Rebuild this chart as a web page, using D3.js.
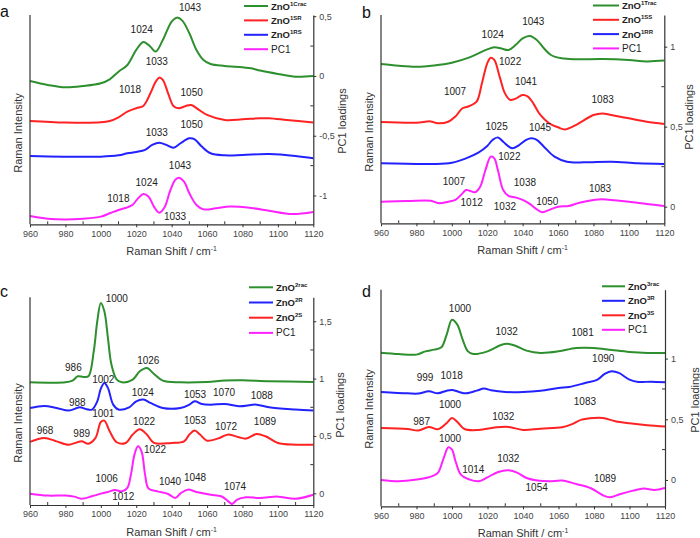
<!DOCTYPE html>
<html><head><meta charset="utf-8">
<script src="https://cdn.jsdelivr.net/npm/d3@7"></script>
<style>body{margin:0;background:#fff} svg{display:block;font-family:"Liberation Sans",Arial,sans-serif}</style>
</head><body><svg id="chart" width="700" height="538"></svg>
<script>
// ---------- DATA (x = Raman shift cm-1, y = value on the PC1-loadings axis) ----------
const xTicks = [960, 980, 1000, 1020, 1040, 1060, 1080, 1100, 1120];

// Panel a
const aLabels = ["1Crac", "1SR", "1RS", "PC1"];
const a_ZnO1Crac = [[960,-0.042],[970,-0.075],[980,-0.095],[990,-0.084],[1000,-0.061],[1005,-0.028],[1010,0.036],[1015,0.092],[1020,0.218],[1024,0.285],[1028,0.245],[1031,0.204],[1035,0.30],[1040,0.455],[1043,0.488],[1046,0.463],[1050,0.357],[1054,0.218],[1058,0.134],[1062,0.10],[1070,0.084],[1080,0.073],[1085,0.064],[1090,0.045],[1100,0.017],[1110,-0.006],[1120,0]];
const a_ZnO1SR = [[960,-0.377],[980,-0.39],[1000,-0.388],[1005,-0.377],[1010,-0.346],[1015,-0.298],[1020,-0.27],[1024,-0.251],[1028,-0.145],[1031,-0.047],[1033,-0.014],[1035,-0.033],[1038,-0.145],[1041,-0.251],[1044,-0.27],[1048,-0.251],[1051,-0.243],[1055,-0.279],[1060,-0.326],[1070,-0.368],[1080,-0.363],[1090,-0.354],[1095,-0.354],[1105,-0.368],[1120,-0.39]];
const a_ZnO1RS = [[960,-0.669],[1000,-0.675],[1010,-0.664],[1015,-0.647],[1020,-0.636],[1025,-0.619],[1029,-0.577],[1033,-0.558],[1037,-0.577],[1041,-0.60],[1045,-0.563],[1050,-0.522],[1053,-0.53],[1057,-0.591],[1062,-0.647],[1070,-0.664],[1080,-0.661],[1095,-0.653],[1110,-0.669],[1120,-0.689]];
const a_PC1 = [[960,-1.172],[970,-1.194],[980,-1.2],[990,-1.194],[1000,-1.177],[1005,-1.149],[1010,-1.121],[1015,-1.099],[1018,-1.077],[1021,-1.024],[1024,-0.987],[1027,-1.01],[1030,-1.093],[1033,-1.144],[1036,-1.099],[1039,-0.968],[1042,-0.87],[1044,-0.851],[1047,-0.884],[1050,-0.982],[1054,-1.079],[1058,-1.116],[1065,-1.107],[1073,-1.093],[1085,-1.105],[1095,-1.127],[1108,-1.155],[1120,-1.138]];
const aTicks = [0.5, 0, -0.5, -1];
const aPeaks = [["1043",1050.4,0.575],["1024",1023.1,0.385],["1033",1031.6,0.12],["1018",1016.5,-0.111],["1050",1051.3,-0.14],["1033",1031.6,-0.474],["1050",1051.3,-0.41],["1043",1044.7,-0.745],["1024",1025.9,-0.893],["1018",1009.9,-1.023],["1033",1041.9,-1.172]];

// Panel b
const bLabels = ["1Trac", "1SS", "1RR", "PC1"];
const b_ZnO1Trac = [[960,0.892],[970,0.881],[980,0.875],[990,0.883],[1000,0.9],[1010,0.933],[1020,0.983],[1024,0.996],[1028,0.988],[1032,0.979],[1036,1.01],[1040,1.052],[1044,1.067],[1048,1.042],[1052,0.99],[1056,0.948],[1062,0.927],[1070,0.921],[1085,0.923],[1100,0.917],[1110,0.908],[1120,0.913]];
const b_ZnO1SS = [[960,0.529],[980,0.525],[988,0.533],[992,0.521],[998,0.531],[1002,0.563],[1006,0.615],[1010,0.629],[1014,0.656],[1017,0.771],[1020,0.896],[1022,0.931],[1024,0.917],[1027,0.8125],[1030,0.708],[1033,0.667],[1036,0.675],[1040,0.698],[1043,0.688],[1046,0.646],[1050,0.573],[1055,0.521],[1060,0.496],[1064,0.483],[1070,0.51],[1080,0.573],[1085,0.583],[1090,0.573],[1100,0.552],[1110,0.531],[1120,0.517]];
const b_ZnO1RR = [[960,0.271],[990,0.267],[1000,0.275],[1008,0.302],[1015,0.3375],[1020,0.379],[1023,0.417],[1026,0.433],[1029,0.406],[1034,0.365],[1038,0.385],[1042,0.417],[1045,0.427],[1048,0.417],[1052,0.375],[1058,0.3125],[1065,0.281],[1075,0.277],[1090,0.281],[1105,0.271],[1120,0.267]];
const b_PC1 = [[960,0.031],[975,0.035],[988,0.0375],[993,0.021],[998,0.031],[1002,0.042],[1006,0.083],[1008,0.104],[1010,0.1],[1013,0.09],[1016,0.125],[1019,0.229],[1022,0.3125],[1024,0.302],[1026,0.229],[1029,0.104],[1032,0.067],[1036,0.058],[1040,0.042],[1044,0.017],[1048,-0.017],[1051,-0.035],[1054,-0.025],[1060,0],[1066,0.004],[1072,0.025],[1080,0.042],[1085,0.046],[1092,0.04],[1100,0.031],[1110,0.017],[1120,0.004]];
const bTicks = [1, 0.5, 0];
const bPeaks = [["1043",1046,1.156],["1024",1023.1,1.073],["1022",1032.9,0.906],["1007",1001.8,0.719],["1041",1041.9,0.781],["1083",1085.2,0.671],["1025",1025.3,0.5],["1045",1049.8,0.496],["1022",1032.5,0.3125],["1007",1001.2,0.156],["1038",1041.3,0.15],["1083",1083.7,0.115],["1012",1011.2,0.025],["1032",1030,0],["1050",1053.9,0.031]];

// Panel c
const cLabels = ["2rac", "2R", "2S", "PC1"];
const c_ZnO2rac = [[960,0.968],[980,0.968],[984,0.983],[987,1.02],[990,1.015],[993,1.02],[996,1.238],[998,1.5],[1000,1.66],[1002,1.587],[1004,1.355],[1006,1.122],[1009,0.991],[1012,0.968],[1018,0.991],[1022,1.064],[1026,1.093],[1030,1.041],[1035,0.983],[1045,0.968],[1060,0.971],[1070,0.983],[1080,0.985],[1095,0.977],[1120,0.971]];
const c_ZnO2R = [[960,0.744],[968,0.762],[975,0.744],[982,0.721],[988,0.75],[992,0.733],[995,0.73],[998,0.802],[1000,0.913],[1002,0.962],[1004,0.919],[1007,0.773],[1010,0.73],[1016,0.75],[1020,0.802],[1024,0.817],[1028,0.788],[1035,0.744],[1045,0.744],[1050,0.773],[1053,0.802],[1057,0.779],[1062,0.773],[1070,0.779],[1078,0.759],[1088,0.773],[1095,0.75],[1110,0.73],[1120,0.721]];
const c_ZnO2S = [[960,0.448],[968,0.483],[975,0.453],[982,0.424],[989,0.453],[993,0.433],[997,0.483],[1000,0.622],[1002,0.634],[1005,0.541],[1009,0.445],[1014,0.439],[1018,0.512],[1022,0.558],[1026,0.512],[1030,0.439],[1040,0.439],[1047,0.453],[1050,0.512],[1053,0.547],[1056,0.512],[1060,0.459],[1066,0.477],[1072,0.512],[1078,0.488],[1082,0.477],[1088,0.517],[1093,0.497],[1100,0.439],[1110,0.424],[1120,0.424]];
const c_PC1 = [[960,-0.003],[970,-0.02],[980,-0.02],[985,-0.029],[989,-0.047],[995,-0.026],[1000,-0.003],[1004,0.012],[1008,0.029],[1012,0.017],[1015,0.047],[1017,0.163],[1019,0.337],[1021,0.41],[1023,0.366],[1025,0.163],[1027,0.041],[1032,0.017],[1038,-0.006],[1042,-0.041],[1045,0],[1049,0.032],[1054,0.012],[1062,-0.012],[1068,-0.026],[1072,-0.07],[1074,-0.093],[1077,-0.055],[1082,-0.035],[1090,-0.041],[1100,-0.029],[1110,-0.047],[1120,-0.012]];
const cTicks = [1.5, 1, 0.5, 0];
const cPeaks = [["1000",1009,1.697],["986",984.5,1.101],["1026",1026.8,1.156],["1002",1001.4,0.9925],["988",986.7,0.796],["1024",1023.7,0.875],["1053",1053.2,0.86],["1070",1069.6,0.875],["1088",1090.9,0.855],["1001",1001.4,0.692],["968",968.5,0.549],["989",989.2,0.52],["1022",1024.4,0.622],["1053",1053.2,0.633],["1072",1070.7,0.584],["1089",1092.7,0.622],["1022",1030.6,0.38],["1006",1003.3,0.127],["1012",1012.7,-0.026],["1040",1039.1,0.105],["1048",1053.2,0.14],["1074",1075.8,0.061]];

// Panel d
const dLabels = ["3rac", "3R", "3S", "PC1"];
const d_ZnO3rac = [[960,1.049],[970,1.038],[980,1.033],[985,1.06],[990,1.074],[994,1.093],[997,1.198],[1000,1.321],[1003,1.28],[1006,1.157],[1009,1.06],[1012,1.038],[1020,1.06],[1028,1.115],[1032,1.121],[1036,1.104],[1042,1.066],[1050,1.047],[1060,1.06],[1070,1.088],[1080,1.088],[1090,1.071],[1100,1.055],[1110,1.047],[1120,1.047]];
const d_ZnO3R = [[960,0.725],[975,0.714],[981,0.712],[987,0.731],[992,0.714],[997,0.736],[1000,0.742],[1004,0.725],[1008,0.714],[1014,0.736],[1018,0.753],[1022,0.739],[1030,0.725],[1040,0.725],[1050,0.736],[1060,0.758],[1066,0.766],[1075,0.799],[1082,0.827],[1086,0.874],[1090,0.896],[1094,0.882],[1100,0.827],[1105,0.808],[1112,0.81],[1120,0.805]];
const d_ZnO3S = [[960,0.429],[975,0.42],[981,0.407],[987,0.437],[992,0.418],[997,0.47],[1000,0.511],[1003,0.478],[1007,0.42],[1015,0.412],[1025,0.434],[1032,0.437],[1040,0.412],[1050,0.423],[1062,0.434],[1068,0.462],[1073,0.497],[1080,0.511],[1085,0.511],[1092,0.484],[1100,0.467],[1110,0.451],[1120,0.44]];
const d_PC1 = [[960,0],[970,-0.011],[980,0.003],[987,0.022],[992,0.058],[995,0.168],[998,0.269],[1000,0.25],[1002,0.154],[1005,0.044],[1010,0.003],[1015,-0.011],[1020,0.022],[1026,0.066],[1032,0.08],[1037,0.058],[1042,0.016],[1048,-0.005],[1055,-0.011],[1062,-0.005],[1070,-0.033],[1078,-0.066],[1085,-0.126],[1089,-0.143],[1095,-0.115],[1102,-0.088],[1108,-0.071],[1114,-0.082],[1120,-0.066]];
const dTicks = [1, 0.5, 0];
const dPeaks = [["1000",1004.5,1.412],["1032",1030.8,1.22],["1081",1073.6,1.217],["1090",1085.2,0.997],["999",984.8,0.846],["1018",999.8,0.863],["987",982.9,0.478],["1000",998.9,0.621],["1032",1028.9,0.525],["1083",1074.9,0.643],["1000",998.9,0.34],["1032",1031.7,0.181],["1014",1012,0.085],["1054",1047.7,-0.066],["1089",1086.2,0.011]];

// ---------- STYLE / LAYOUT ----------
const GREEN = "#2e8f2e", RED = "#ff2222", BLUE = "#2222ff", MAG = "#ff22ff";
const panels = [
  {letter:"a", lx:0, ly:17, x0:30, x1:313.3, y0:15, y1:224.3, yd:[-1.241,0.51], ticks:aTicks,
   series:[[a_ZnO1Crac,GREEN],[a_ZnO1SR,RED],[a_ZnO1RS,BLUE],[a_PC1,MAG]], labels:aLabels,
   legendColors:[GREEN,RED,BLUE,MAG], leg:{x0:244,x1:268,y:6,dy:14.4}, peaks:aPeaks, riY:133, pcY:121, pcX:341.5},
  {letter:"b", lx:362, ly:18, x0:381, x1:664.3, y0:15, y1:223.3, yd:[-0.104,1.198], ticks:bTicks,
   series:[[b_ZnO1Trac,GREEN],[b_ZnO1SS,RED],[b_ZnO1RR,BLUE],[b_PC1,MAG]], labels:bLabels,
   legendColors:[GREEN,RED,BLUE,MAG], leg:{x0:593,x1:619,y:5.5,dy:14.3}, peaks:bPeaks, riY:132, pcY:117, pcX:689},
  {letter:"c", lx:0, ly:297, x0:30, x1:313.3, y0:297.3, y1:505, yd:[-0.102,1.709], ticks:cTicks,
   series:[[c_ZnO2rac,GREEN],[c_ZnO2R,BLUE],[c_ZnO2S,RED],[c_PC1,MAG]], labels:cLabels,
   legendColors:[GREEN,BLUE,RED,MAG], leg:{x0:249,x1:273,y:287.3,dy:15.2}, peaks:cPeaks, riY:423, pcY:405, pcX:340},
  {letter:"d", lx:362, ly:297, x0:381, x1:665, y0:289.7, y1:506.3, yd:[-0.217,1.568], ticks:dTicks,
   series:[[d_ZnO3rac,GREEN],[d_ZnO3R,BLUE],[d_ZnO3S,RED],[d_PC1,MAG]], labels:dLabels,
   legendColors:[GREEN,BLUE,RED,MAG], leg:{x0:602,x1:625,y:286.3,dy:14.5}, peaks:dPeaks, riY:409, pcY:400, pcX:695}
];

const svg = d3.select("#chart");
const AX = "#333";

panels.forEach(p => {
  const x = d3.scaleLinear().domain([960,1120]).range([p.x0,p.x1]);
  const y = d3.scaleLinear().domain(p.yd).range([p.y1,p.y0]);
  const g = svg.append("g");

  // curves
  const line = d3.line().x(d=>x(d[0])).y(d=>y(d[1])).curve(d3.curveCatmullRom.alpha(0.5));
  p.series.forEach(([data,col]) => {
    g.append("path").datum(data).attr("d",line).attr("fill","none")
      .attr("stroke",col).attr("stroke-width",2).attr("stroke-linejoin","round");
  });

  // left axis line (no ticks)
  g.append("line").attr("x1",p.x0).attr("x2",p.x0).attr("y1",p.y0).attr("y2",p.y1)
    .attr("stroke",AX).attr("stroke-width",1.2);

  // bottom axis
  const bx = g.append("g").attr("transform",`translate(0,${p.y1})`)
    .call(d3.axisBottom(x).tickValues(xTicks).tickFormat(d3.format("d")).tickSize(3).tickPadding(3).tickSizeOuter(0));
  bx.select(".domain").attr("stroke",AX).attr("stroke-width",1.2);
  bx.selectAll(".tick line").attr("stroke",AX);
  bx.selectAll("text").attr("font-size",9).attr("fill","#444").attr("font-family","Liberation Sans, Arial, sans-serif");
  const minorX = d3.range(970,1120,20);
  g.selectAll(null).data(minorX).enter().append("line")
    .attr("x1",d=>x(d)).attr("x2",d=>x(d)).attr("y1",p.y1).attr("y2",p.y1-3).attr("stroke",AX);

  // right axis
  const fmt = v => String(v).replace(".",",");
  const ry = g.append("g").attr("transform",`translate(${p.x1},0)`)
    .call(d3.axisRight(y).tickValues(p.ticks).tickFormat(fmt).tickSize(3).tickPadding(3).tickSizeOuter(0));
  ry.select(".domain").attr("stroke",AX).attr("stroke-width",1.2);
  ry.selectAll(".tick line").attr("stroke",AX);
  ry.selectAll("text").attr("font-size",9).attr("fill","#444").attr("font-family","Liberation Sans, Arial, sans-serif");
  const minorY = p.ticks.slice(0,-1).map((t,i)=>(t+p.ticks[i+1])/2);
  g.selectAll(null).data(minorY).enter().append("line")
    .attr("x1",p.x1).attr("x2",p.x1-3).attr("y1",d=>y(d)).attr("y2",d=>y(d)).attr("stroke",AX);

  // axis titles
  const xt = g.append("text").attr("x",(p.x0+p.x1)/2).attr("y",p.y1+31).attr("text-anchor","middle")
    .attr("font-size",11).attr("fill","#333");
  xt.append("tspan").text("Raman Shift / cm");
  xt.append("tspan").text("-1").attr("font-size",7).attr("dy",-4);
  g.append("text").attr("transform",`translate(${p.x0-8},${p.riY}) rotate(-90)`).attr("text-anchor","middle")
    .attr("font-size",11).attr("fill","#333").text("Raman Intensity");
  g.append("text").attr("transform",`translate(${p.pcX+4},${p.pcY}) rotate(-90)`).attr("text-anchor","middle")
    .attr("font-size",11).attr("fill","#333").text("PC1 loadings");

  // panel letter
  g.append("text").attr("x",p.lx).attr("y",p.ly).attr("font-size",16).attr("fill","#111").text(p.letter);

  // legend
  p.labels.forEach((lab,i) => {
    const yy = p.leg.y + i*p.leg.dy;
    g.append("line").attr("x1",p.leg.x0).attr("x2",p.leg.x1).attr("y1",yy).attr("y2",yy)
      .attr("stroke",p.legendColors[i]).attr("stroke-width",2);
    const t = g.append("text").attr("x",p.leg.x1+3).attr("y",yy+3.5).attr("fill","#222");
    if (lab === "PC1") { t.attr("font-size",10).text("PC1"); }
    else {
      t.append("tspan").text("ZnO").attr("font-size",9.5).attr("font-weight","bold");
      t.append("tspan").text(lab).attr("font-size",6).attr("font-weight","bold").attr("dy",-4);
    }
  });

  // peak labels
  g.selectAll(null).data(p.peaks).enter().append("text")
    .attr("x",d=>x(d[1])).attr("y",d=>y(d[2])).attr("dy","0.35em").attr("text-anchor","middle")
    .attr("font-size",10).attr("fill","#222").text(d=>d[0]);
});
</script></body></html>
